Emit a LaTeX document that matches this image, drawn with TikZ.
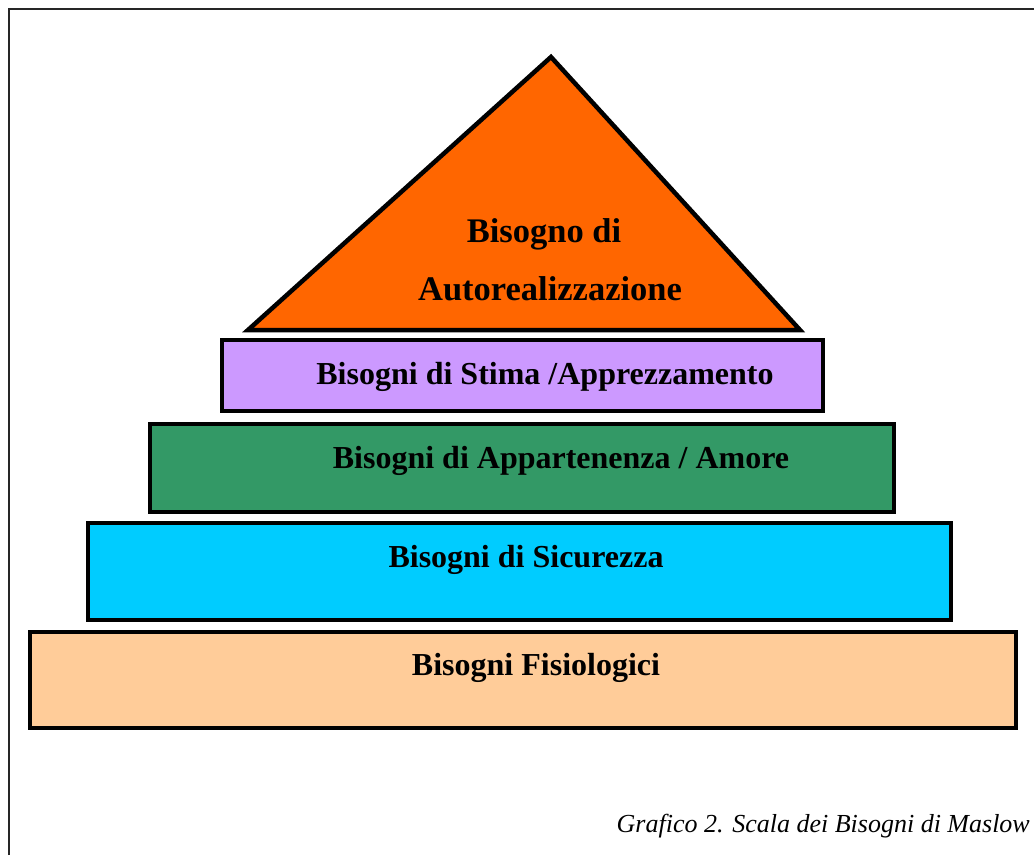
\documentclass[tikz,border=0pt]{standalone}
\usepackage{fontspec}
\setmainfont{Liberation Serif}

\definecolor{arancio}{HTML}{FF6600}
\definecolor{lilla}{HTML}{CC99FF}
\definecolor{verde}{HTML}{339966}
\definecolor{celeste}{HTML}{00CCFF}
\definecolor{pesca}{HTML}{FFCC99}

\tikzset{
  gradino/.style={draw=black,line width=4.5pt,line join=miter},
  scritta/.style={anchor=base,inner sep=0pt,
    font=\fontsize{32}{38}\selectfont\bfseries},
  cima/.style={scritta,font=\fontsize{34.5}{40}\selectfont\bfseries},
}

\begin{document}
\begin{tikzpicture}[x=1pt,y=-1pt]
    \useasboundingbox (0,0) rectangle (1034,855);
    \draw [line width=2pt,black!85] (9,855) -- (9,9) -- (1034,9);

    \coordinate (a0) at (551, 57);
    \coordinate (a1) at (248, 330);
    \coordinate (a2) at (800, 330);

    \draw [gradino,fill=arancio] (a0) -- (a1) -- (a2) -- cycle;

    \draw [gradino,fill=lilla] (222, 340) rectangle (823, 411);
    \draw [gradino,fill=verde] (150, 424) rectangle (894, 512);
    \draw [gradino,fill=celeste] (88, 523) rectangle (951, 620);
    \draw [gradino,fill=pesca] (30, 632) rectangle (1016, 728);

    \node [cima] (vertice1) at (544, 242) {Bisogno di};
    \node [cima] (vertice2) at (550, 300) {Autorealizzazione};

    \node [scritta] (stima) at (545, 384) {Bisogni di Stima /Apprezzamento};
    \node [scritta] (amore) at (561, 468) {Bisogni di Appartenenza / Amore};
    \node [scritta] (sicurezza) at (526, 567) {Bisogni di Sicurezza};
    \node [scritta] (fisio) at (536, 675) {Bisogni Fisiologici};

    \node [anchor=base east,inner sep=0pt,
    font=\fontsize{26}{30}\selectfont\itshape] (titolo) at (1030, 832)
    {Grafico 2. Scala dei Bisogni di Maslow};
  \end{tikzpicture}
\end{document}
